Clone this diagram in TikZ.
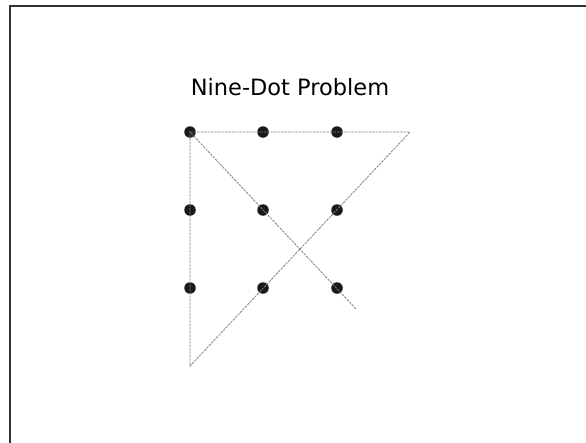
\documentclass[tikz,border=0pt]{standalone}
\usepackage{fontspec}
\setmainfont{DejaVu Sans}
\begin{document}
\begin{tikzpicture}[x=1pt,y=-1pt,
  dot/.style={circle,fill=black!90,inner sep=0pt,minimum size=11.5pt},
  guide/.style={draw=black!50,line width=0.8pt,dash pattern=on 2.5pt off 1pt},
  frame/.style={draw=black!80,line width=2.5pt}]
\useasboundingbox (0,0) rectangle (586,442);
\draw[frame] (10,443) -- (10,6) -- (587,6);
\node (title) at (290,87) {\fontsize{22.5}{26}\selectfont Nine-Dot Problem};
\foreach \i/\x in {1/190,2/263,3/337}{
  \foreach \j/\y in {1/132,2/210,3/288}{
    \node[dot] (d\i\j) at (\x,\y) {};
  }
}
\coordinate (tr) at (410,132);
\coordinate (bl) at (190,366);
\coordinate (end) at (356,309);
\draw[guide] (d11.center) -- (tr) -- (bl) -- (d11.center) -- (end);
\end{tikzpicture}
\end{document}
